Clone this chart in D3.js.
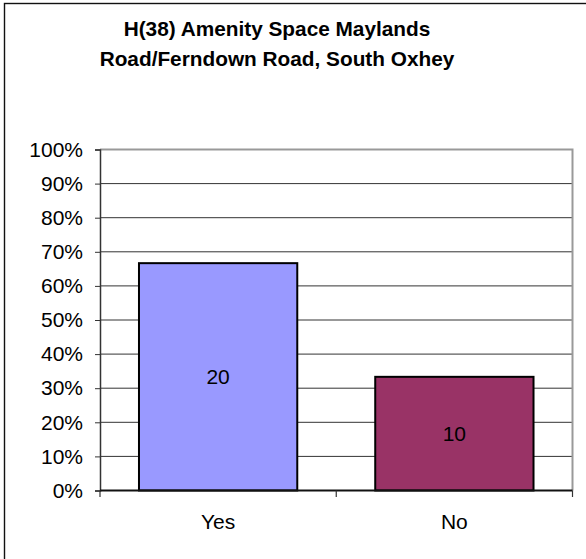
<!DOCTYPE html>
<html>
<head>
<meta charset="utf-8">
<script src="https://cdn.jsdelivr.net/npm/d3@7"></script>
<style>
  html, body { margin: 0; padding: 0; background: #fff; }
  svg { display: block; }
  text { font-family: "Liberation Sans", Arial, sans-serif; fill: #000; }
</style>
</head>
<body>
<svg id="chart" width="586" height="559"></svg>
<script>
const titleLines = ["H(38) Amenity Space Maylands", "Road/Ferndown Road, South Oxhey"];
const categories = ["Yes", "No"];
const counts = [20, 10];
const barColors = ["#9999FF", "#993366"];
const yTicks = [0, 0.1, 0.2, 0.3, 0.4, 0.5, 0.6, 0.7, 0.8, 0.9, 1.0];

const total = d3.sum(counts);
const shares = counts.map(c => c / total);

const svg = d3.select("#chart");

// outer frame (right and bottom edges fall outside the picture)
svg.append("rect")
  .attr("x", 4.5).attr("y", 3.5)
  .attr("width", 700).attr("height", 700)
  .attr("fill", "none").attr("stroke", "#111").attr("stroke-width", 1.4);

// title
svg.append("g").selectAll("text").data(titleLines).join("text")
  .attr("x", 277)
  .attr("y", (d, i) => 35.5 + i * 30.5)
  .attr("text-anchor", "middle")
  .attr("font-size", 20.8)
  .attr("font-weight", "bold")
  .text(d => d);

const plot = { left: 100, right: 572.5, top: 149.5, bottom: 490.5 };

const x = d3.scaleBand()
  .domain(categories)
  .range([plot.left, plot.right])
  .paddingInner(0.33)
  .paddingOuter(0.165);

const y = d3.scaleLinear()
  .domain([0, 1])
  .range([plot.bottom, plot.top]);

// gridlines
svg.append("g").selectAll("line").data(yTicks.filter(t => t > 0 && t < 1)).join("line")
  .attr("x1", plot.left).attr("x2", plot.right)
  .attr("y1", d => y(d)).attr("y2", d => y(d))
  .attr("stroke", "#333").attr("stroke-width", 1);

// plot area top and right border (grey)
svg.append("path")
  .attr("d", `M${plot.left},${y(1)}H${plot.right}V${plot.bottom}`)
  .attr("fill", "none").attr("stroke", "#999").attr("stroke-width", 2);

// bars
svg.append("g").selectAll("rect").data(categories).join("rect")
  .attr("x", d => x(d))
  .attr("y", (d, i) => y(shares[i]))
  .attr("width", x.bandwidth())
  .attr("height", (d, i) => y(0) - y(shares[i]))
  .attr("fill", (d, i) => barColors[i])
  .attr("stroke", "#000").attr("stroke-width", 2);

// bar labels
svg.append("g").selectAll("text").data(categories).join("text")
  .attr("x", d => x(d) + x.bandwidth() / 2)
  .attr("y", (d, i) => y(shares[i] / 2))
  .attr("dy", "0.35em")
  .attr("text-anchor", "middle")
  .attr("font-size", 21)
  .text((d, i) => counts[i]);

// y axis
const yAxis = d3.axisLeft(y)
  .tickValues(yTicks)
  .tickFormat(d3.format(".0%"))
  .tickSize(5)
  .tickPadding(12);
const gy = svg.append("g")
  .attr("transform", `translate(${plot.left},0)`)
  .call(yAxis);
gy.select(".domain").attr("stroke", "#333").attr("stroke-width", 1.5);
gy.selectAll(".tick line").attr("stroke", "#333");
gy.selectAll(".tick text")
  .attr("font-size", 21)
  .attr("font-family", "Liberation Sans, Arial, sans-serif")
  .attr("fill", "#000");

// x axis (baseline + tick marks between categories)
svg.append("line")
  .attr("x1", plot.left).attr("x2", plot.right)
  .attr("y1", y(0)).attr("y2", y(0))
  .attr("stroke", "#111").attr("stroke-width", 2);
const tickXs = [plot.left, plot.left + (plot.right - plot.left) / 2, plot.right];
svg.append("g").selectAll("line").data(tickXs).join("line")
  .attr("x1", d => d).attr("x2", d => d)
  .attr("y1", y(0)).attr("y2", y(0) + 6.5)
  .attr("stroke", "#333").attr("stroke-width", 1.2);

svg.append("g").selectAll("text").data(categories).join("text")
  .attr("x", d => x(d) + x.bandwidth() / 2)
  .attr("y", 528.5)
  .attr("text-anchor", "middle")
  .attr("font-size", 21)
  .text(d => d);
</script>
</body>
</html>
